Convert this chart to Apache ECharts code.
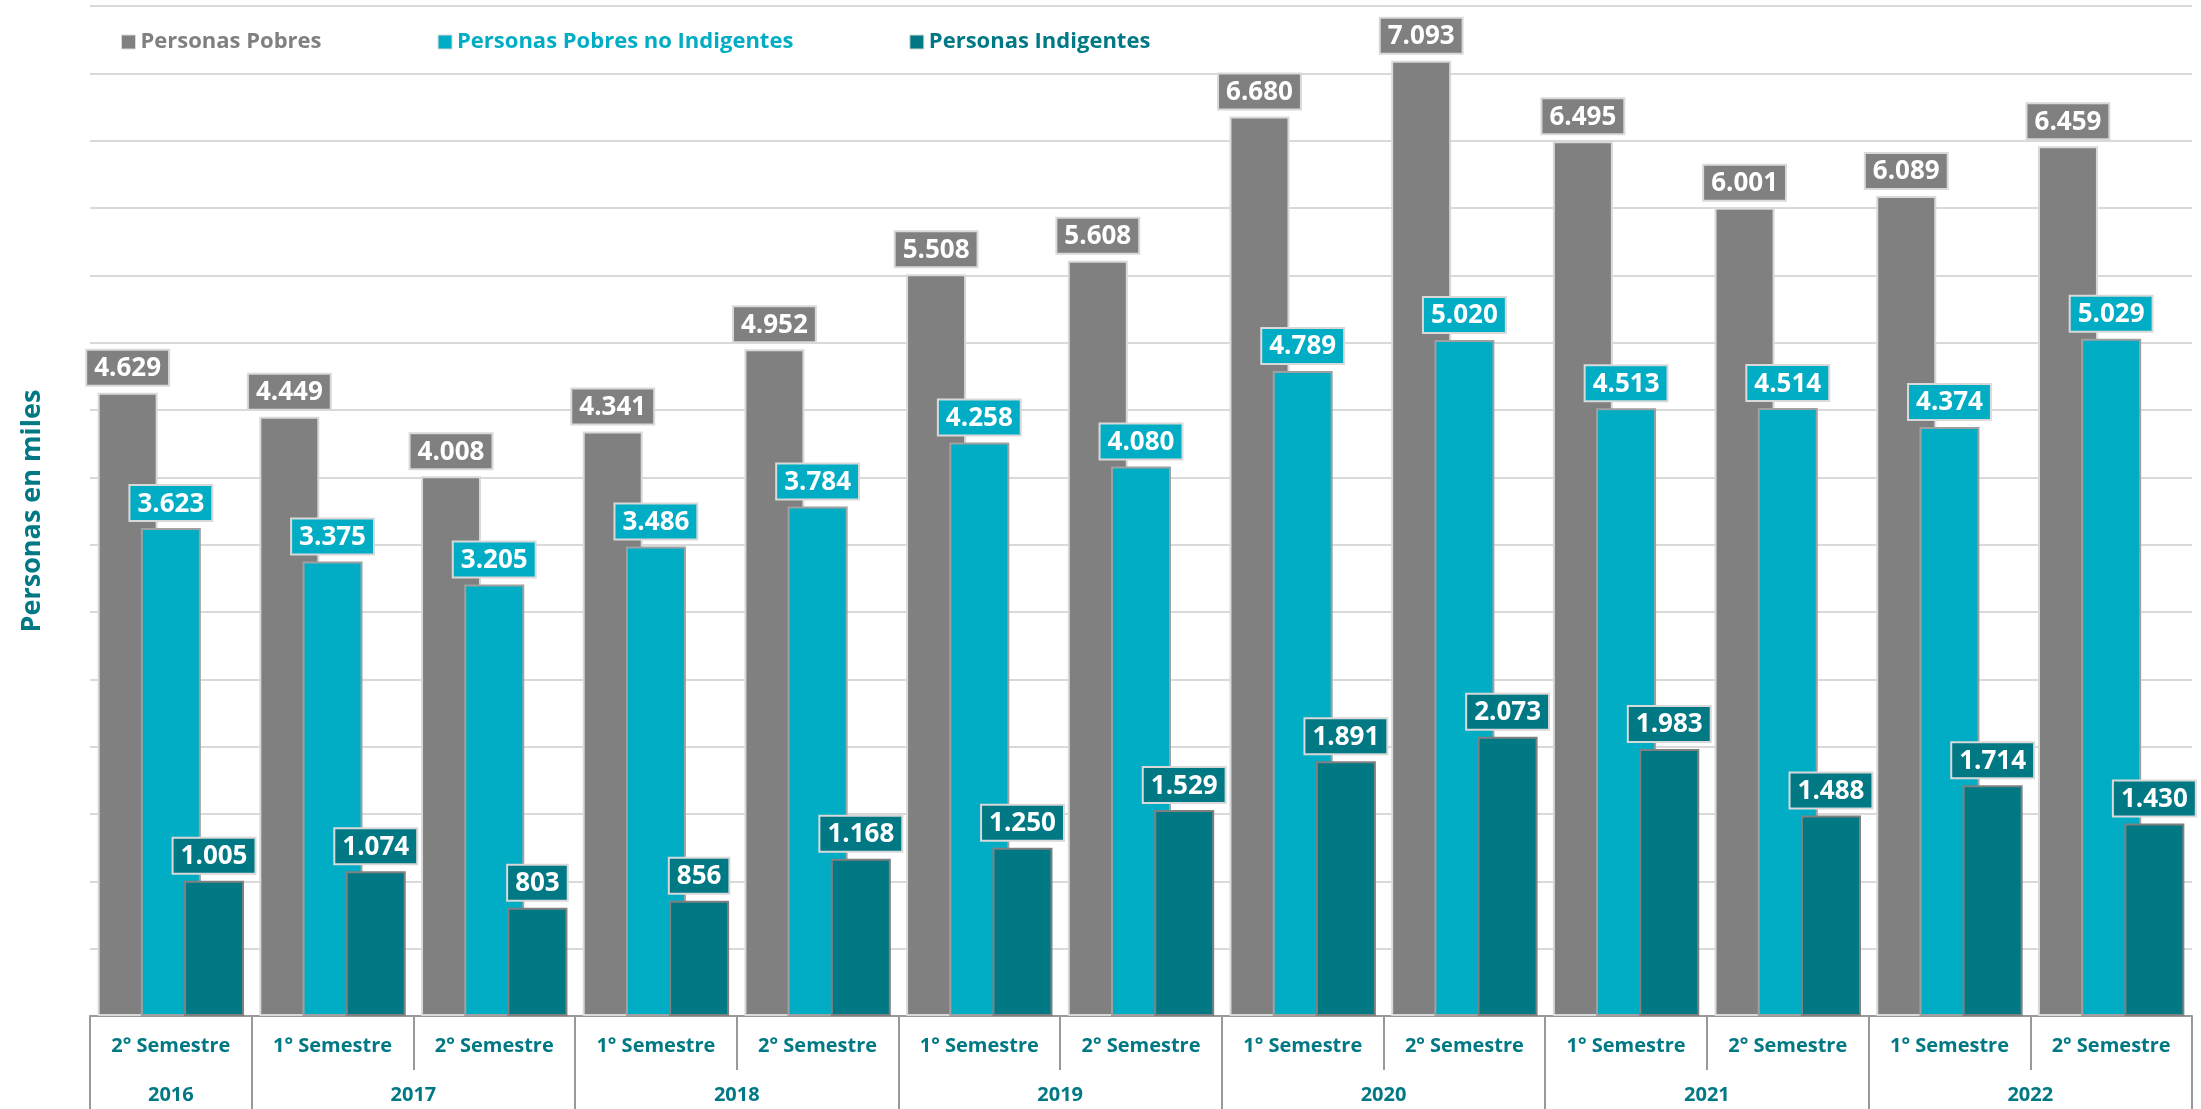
<!DOCTYPE html>
<html>
<head>
<meta charset="utf-8">
<script src="https://cdn.jsdelivr.net/npm/echarts@6/dist/echarts.min.js"></script>
<style>
  html, body { margin: 0; padding: 0; background: #ffffff; }
  #chart { width: 2201px; height: 1109px; }
</style>
</head>
<body>
<div id="chart"></div>
<script>
// categorias del eje x
const semesters = [
  '2° Semestre',
  '1° Semestre', '2° Semestre',
  '1° Semestre', '2° Semestre',
  '1° Semestre', '2° Semestre',
  '1° Semestre', '2° Semestre',
  '1° Semestre', '2° Semestre',
  '1° Semestre', '2° Semestre',
]
const years = ['2016', '2017', '2018', '2019', '2020', '2021', '2022']
const yearSpans = [1, 2, 2, 2, 2, 2, 2] // semestres por año

// series (personas en miles)
const pobres = [4629, 4449, 4008, 4341, 4952, 5508, 5608, 6680, 7093, 6495, 6001, 6089, 6459]
const pobresNoIndigentes = [3623, 3375, 3205, 3486, 3784, 4258, 4080, 4789, 5020, 4513, 4514, 4374, 5029]
const indigentes = [1005, 1074, 803, 856, 1168, 1250, 1529, 1891, 2073, 1983, 1488, 1714, 1430]

const seriesNames = ['Personas Pobres', 'Personas Pobres no Indigentes', 'Personas Indigentes']
const colors = ['#808080', '#00adc4', '#007985']

// eje de años: 2 posiciones por semestre, etiqueta en el centro de cada año
const yearSlots = new Array(semesters.length * 2 + 1).fill('')
const yearTicks = [0]
let pos = 0
years.forEach((y, i) => {
  yearSlots[pos * 2 + yearSpans[i]] = y
  pos += yearSpans[i]
  yearTicks.push(pos * 2)
})

const fmt = v => {
  return String(v).replace(/\B(?=(\d{3})+(?!\d))/g, '.')
}

const font = '"Open Sans", sans-serif'
const boxLine = '#999999'

function barSeries(name, data, color, border) {
  return {
    name: name,
    type: 'bar',
    data: data,
    barWidth: 60,
    barGap: '-28%',
    itemStyle: {
      color: color,
      borderColor: border,
      borderWidth: 2,
    },
    label: {
      show: true,
      position: 'top',
      distance: 8,
      formatter: p => fmt(p.value),
      color: '#ffffff',
      fontFamily: font,
      fontSize: 26,
      fontWeight: 'bold',
      backgroundColor: color,
      borderColor: '#d9d9d9',
      borderWidth: 2,
      padding: [5, 7, 3, 7],
    },
    emphasis: { disabled: true },
  }
}

const chart = echarts.init(document.getElementById('chart'))
const option = {
  animation: false,
  backgroundColor: '#ffffff',
  textStyle: { fontFamily: font },
  grid: {
    left: 90,
    right: 9,
    top: 6,
    bottom: 93,
  },
  legend: {
    left: 116,
    top: 26,
    itemWidth: 14,
    itemHeight: 14,
    itemGap: 116,
    icon: 'rect',
    textStyle: {
      fontFamily: font,
      fontSize: 22,
      fontWeight: 'bold',
    },
    data: seriesNames.map((n, i) => ({
      name: n,
      itemStyle: { borderColor: '#d9d9d9', borderWidth: 1 },
      textStyle: { color: colors[i] },
    })),
  },
  xAxis: [
    {
      type: 'category',
      data: semesters,
      axisLine: {
        show: true,
        lineStyle: { color: boxLine, width: 2 },
      },
      axisTick: {
        show: true,
        interval: 0,
        length: 54,
        lineStyle: { color: boxLine, width: 2 },
      },
      axisLabel: {
        interval: 0,
        margin: 20,
        color: '#007985',
        fontFamily: font,
        fontSize: 20,
        fontWeight: 'bold',
      },
    },
    {
      type: 'category',
      position: 'bottom',
      boundaryGap: false,
      data: yearSlots,
      axisLine: { show: false },
      axisTick: {
        show: true,
        interval: idx => yearTicks.indexOf(idx) !== -1,
        length: 93,
        lineStyle: { color: boxLine, width: 2 },
      },
      axisLabel: {
        interval: (idx, val) => val !== '',
        margin: 69,
        color: '#007985',
        fontFamily: font,
        fontSize: 20,
        fontWeight: 'bold',
      },
      splitLine: { show: false },
    },
  ],
  yAxis: {
    type: 'value',
    min: 0,
    max: 7500,
    interval: 500,
    name: 'Personas en miles',
    nameLocation: 'middle',
    nameRotate: 90,
    nameGap: 44,
    nameTextStyle: {
      color: '#007985',
      fontFamily: font,
      fontSize: 27,
      fontWeight: 'bold',
    },
    axisLine: { show: false },
    axisTick: { show: false },
    axisLabel: { show: false },
    splitLine: {
      lineStyle: { color: '#d9d9d9', width: 2 },
    },
  },
  series: [
    barSeries(seriesNames[0], pobres, colors[0], '#d9d9d9'),
    barSeries(seriesNames[1], pobresNoIndigentes, colors[1], '#a0a0a0'),
    barSeries(seriesNames[2], indigentes, colors[2], '#808080'),
  ],
}
chart.setOption(option)
</script>
</body>
</html>
